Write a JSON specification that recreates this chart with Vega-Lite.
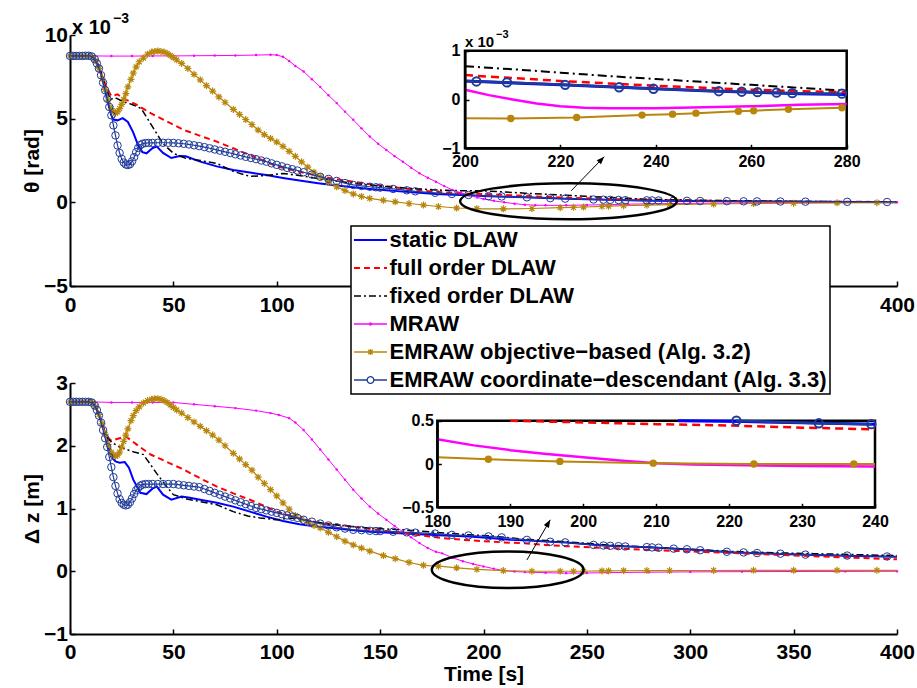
{
"$schema": "https://vega.github.io/schema/vega-lite/v6.json",
"width": 827, "height": 599,
"autosize": {"type": "none"},
"padding": {"left": 70, "top": 35, "right": 20, "bottom": 54},
"background": "white",
"config": {
 "view": {"stroke": null},
 "font": "Liberation Sans",
 "axis": {"domainColor":"black","domainWidth":2,"tickColor":"black","tickWidth":1.5,"tickSize":-5,"labelFont":"Liberation Sans","labelFontSize":21,"labelFontWeight":"bold","labelColor":"black","labelFlush":false,"labelOverlap":false,"labelBound":false,"titleFont":"Liberation Sans","titleFontSize":21,"titleFontWeight":"bold","titleColor":"black","grid":false}
},
"datasets": {
"L": [
{"p":"th","s":"sd","t":0,"v":8.75},{"p":"th","s":"sd","t":10,"v":8.75},{"p":"th","s":"sd","t":12,"v":8.6},{"p":"th","s":"sd","t":14,"v":8.1},{"p":"th","s":"sd","t":16,"v":7.2},{"p":"th","s":"sd","t":18,"v":6.1},{"p":"th","s":"sd","t":20,"v":5.2},{"p":"th","s":"sd","t":21,"v":4.95},{"p":"th","s":"sd","t":23,"v":4.9},{"p":"th","s":"sd","t":25.5,"v":5.03},{"p":"th","s":"sd","t":28,"v":4.8},{"p":"th","s":"sd","t":30.5,"v":4.2},{"p":"th","s":"sd","t":33,"v":3.4},{"p":"th","s":"sd","t":35,"v":3.0},{"p":"th","s":"sd","t":37,"v":2.93},{"p":"th","s":"sd","t":40,"v":3.25},{"p":"th","s":"sd","t":42,"v":3.33},{"p":"th","s":"sd","t":45,"v":2.95},{"p":"th","s":"sd","t":49,"v":2.65},{"p":"th","s":"sd","t":53,"v":2.77},{"p":"th","s":"sd","t":56,"v":2.75},{"p":"th","s":"sd","t":63,"v":2.43},{"p":"th","s":"sd","t":71,"v":2.15},{"p":"th","s":"sd","t":79,"v":1.93},{"p":"th","s":"sd","t":87,"v":1.78},{"p":"th","s":"sd","t":95,"v":1.63},{"p":"th","s":"sd","t":103,"v":1.46},{"p":"th","s":"sd","t":111,"v":1.3},{"p":"th","s":"sd","t":120,"v":1.14},{"p":"th","s":"sd","t":129,"v":1.0},{"p":"th","s":"sd","t":137,"v":0.9},{"p":"th","s":"sd","t":145,"v":0.8},{"p":"th","s":"sd","t":153,"v":0.72},{"p":"th","s":"sd","t":161,"v":0.64},{"p":"th","s":"sd","t":169,"v":0.57},{"p":"th","s":"sd","t":177,"v":0.5},{"p":"th","s":"sd","t":185,"v":0.46},{"p":"th","s":"sd","t":193,"v":0.42},{"p":"th","s":"sd","t":200,"v":0.38},{"p":"th","s":"sd","t":210,"v":0.34},{"p":"th","s":"sd","t":220,"v":0.3},{"p":"th","s":"sd","t":230,"v":0.26},{"p":"th","s":"sd","t":240,"v":0.22},{"p":"th","s":"sd","t":250,"v":0.18},{"p":"th","s":"sd","t":260,"v":0.15},{"p":"th","s":"sd","t":270,"v":0.12},{"p":"th","s":"sd","t":280,"v":0.1},{"p":"th","s":"sd","t":300,"v":0.08},{"p":"th","s":"sd","t":320,"v":0.06},{"p":"th","s":"sd","t":340,"v":0.045},{"p":"th","s":"sd","t":360,"v":0.03},{"p":"th","s":"sd","t":380,"v":0.02},{"p":"th","s":"sd","t":400,"v":0.01},
{"p":"th","s":"fo","t":0,"v":8.75},{"p":"th","s":"fo","t":10,"v":8.75},{"p":"th","s":"fo","t":12,"v":8.6},{"p":"th","s":"fo","t":14,"v":8.1},{"p":"th","s":"fo","t":16,"v":7.4},{"p":"th","s":"fo","t":17.5,"v":6.9},{"p":"th","s":"fo","t":20,"v":6.35},{"p":"th","s":"fo","t":23,"v":6.45},{"p":"th","s":"fo","t":26,"v":6.2},{"p":"th","s":"fo","t":32,"v":5.85},{"p":"th","s":"fo","t":39,"v":5.33},{"p":"th","s":"fo","t":47,"v":4.83},{"p":"th","s":"fo","t":55,"v":4.33},{"p":"th","s":"fo","t":63,"v":3.97},{"p":"th","s":"fo","t":71,"v":3.63},{"p":"th","s":"fo","t":79,"v":3.23},{"p":"th","s":"fo","t":87,"v":2.83},{"p":"th","s":"fo","t":94,"v":2.47},{"p":"th","s":"fo","t":100,"v":2.15},{"p":"th","s":"fo","t":111,"v":1.83},{"p":"th","s":"fo","t":121,"v":1.55},{"p":"th","s":"fo","t":129,"v":1.38},{"p":"th","s":"fo","t":137,"v":1.23},{"p":"th","s":"fo","t":149,"v":1.02},{"p":"th","s":"fo","t":161,"v":0.84},{"p":"th","s":"fo","t":173,"v":0.68},{"p":"th","s":"fo","t":185,"v":0.56},{"p":"th","s":"fo","t":193,"v":0.52},{"p":"th","s":"fo","t":200,"v":0.5},{"p":"th","s":"fo","t":210,"v":0.44},{"p":"th","s":"fo","t":220,"v":0.38},{"p":"th","s":"fo","t":230,"v":0.33},{"p":"th","s":"fo","t":240,"v":0.28},{"p":"th","s":"fo","t":250,"v":0.24},{"p":"th","s":"fo","t":260,"v":0.2},{"p":"th","s":"fo","t":270,"v":0.17},{"p":"th","s":"fo","t":280,"v":0.15},{"p":"th","s":"fo","t":300,"v":0.11},{"p":"th","s":"fo","t":320,"v":0.08},{"p":"th","s":"fo","t":340,"v":0.06},{"p":"th","s":"fo","t":360,"v":0.04},{"p":"th","s":"fo","t":380,"v":0.03},{"p":"th","s":"fo","t":400,"v":0.02},
{"p":"th","s":"fx","t":0,"v":8.75},{"p":"th","s":"fx","t":10,"v":8.75},{"p":"th","s":"fx","t":12,"v":8.6},{"p":"th","s":"fx","t":14,"v":8.1},{"p":"th","s":"fx","t":16,"v":7.4},{"p":"th","s":"fx","t":17.5,"v":6.8},{"p":"th","s":"fx","t":19.5,"v":6.15},{"p":"th","s":"fx","t":22,"v":6.25},{"p":"th","s":"fx","t":26,"v":6.0},{"p":"th","s":"fx","t":30,"v":5.85},{"p":"th","s":"fx","t":34.5,"v":5.6},{"p":"th","s":"fx","t":37,"v":5.1},{"p":"th","s":"fx","t":40,"v":4.5},{"p":"th","s":"fx","t":45,"v":3.5},{"p":"th","s":"fx","t":50,"v":2.93},{"p":"th","s":"fx","t":56,"v":2.63},{"p":"th","s":"fx","t":63,"v":2.5},{"p":"th","s":"fx","t":71,"v":2.33},{"p":"th","s":"fx","t":79,"v":1.85},{"p":"th","s":"fx","t":87,"v":1.55},{"p":"th","s":"fx","t":95,"v":1.6},{"p":"th","s":"fx","t":103,"v":1.73},{"p":"th","s":"fx","t":110,"v":1.62},{"p":"th","s":"fx","t":121,"v":1.4},{"p":"th","s":"fx","t":137,"v":1.14},{"p":"th","s":"fx","t":153,"v":0.94},{"p":"th","s":"fx","t":165,"v":0.83},{"p":"th","s":"fx","t":177,"v":0.74},{"p":"th","s":"fx","t":187,"v":0.7},{"p":"th","s":"fx","t":193,"v":0.69},{"p":"th","s":"fx","t":200,"v":0.68},{"p":"th","s":"fx","t":210,"v":0.62},{"p":"th","s":"fx","t":220,"v":0.55},{"p":"th","s":"fx","t":230,"v":0.48},{"p":"th","s":"fx","t":240,"v":0.42},{"p":"th","s":"fx","t":250,"v":0.36},{"p":"th","s":"fx","t":260,"v":0.3},{"p":"th","s":"fx","t":270,"v":0.24},{"p":"th","s":"fx","t":280,"v":0.18},{"p":"th","s":"fx","t":300,"v":0.13},{"p":"th","s":"fx","t":320,"v":0.1},{"p":"th","s":"fx","t":340,"v":0.07},{"p":"th","s":"fx","t":360,"v":0.05},{"p":"th","s":"fx","t":380,"v":0.03},{"p":"th","s":"fx","t":400,"v":0.02},
{"p":"th","s":"mr","t":0,"v":8.75},{"p":"th","s":"mr","t":10,"v":8.75},{"p":"th","s":"mr","t":20,"v":8.74},{"p":"th","s":"mr","t":30,"v":8.74},{"p":"th","s":"mr","t":40,"v":8.75},{"p":"th","s":"mr","t":50,"v":8.75},{"p":"th","s":"mr","t":60,"v":8.76},{"p":"th","s":"mr","t":70,"v":8.77},{"p":"th","s":"mr","t":80,"v":8.78},{"p":"th","s":"mr","t":90,"v":8.8},{"p":"th","s":"mr","t":97,"v":8.82},{"p":"th","s":"mr","t":100,"v":8.8},{"p":"th","s":"mr","t":103,"v":8.7},{"p":"th","s":"mr","t":106,"v":8.45},{"p":"th","s":"mr","t":109,"v":8.15},{"p":"th","s":"mr","t":113,"v":7.82},{"p":"th","s":"mr","t":117,"v":7.35},{"p":"th","s":"mr","t":121,"v":6.9},{"p":"th","s":"mr","t":125,"v":6.4},{"p":"th","s":"mr","t":129,"v":5.93},{"p":"th","s":"mr","t":133,"v":5.42},{"p":"th","s":"mr","t":137,"v":4.93},{"p":"th","s":"mr","t":141,"v":4.42},{"p":"th","s":"mr","t":145,"v":3.93},{"p":"th","s":"mr","t":149,"v":3.5},{"p":"th","s":"mr","t":153,"v":3.13},{"p":"th","s":"mr","t":157,"v":2.76},{"p":"th","s":"mr","t":161,"v":2.43},{"p":"th","s":"mr","t":165,"v":2.07},{"p":"th","s":"mr","t":169,"v":1.74},{"p":"th","s":"mr","t":173,"v":1.47},{"p":"th","s":"mr","t":177,"v":1.23},{"p":"th","s":"mr","t":181,"v":0.97},{"p":"th","s":"mr","t":185,"v":0.74},{"p":"th","s":"mr","t":189,"v":0.57},{"p":"th","s":"mr","t":193,"v":0.42},{"p":"th","s":"mr","t":197,"v":0.29},{"p":"th","s":"mr","t":200,"v":0.2},{"p":"th","s":"mr","t":205,"v":0.09},{"p":"th","s":"mr","t":210,"v":0.0},{"p":"th","s":"mr","t":215,"v":-0.08},{"p":"th","s":"mr","t":220,"v":-0.14},{"p":"th","s":"mr","t":225,"v":-0.17},{"p":"th","s":"mr","t":230,"v":-0.18},{"p":"th","s":"mr","t":240,"v":-0.18},{"p":"th","s":"mr","t":250,"v":-0.16},{"p":"th","s":"mr","t":260,"v":-0.14},{"p":"th","s":"mr","t":270,"v":-0.11},{"p":"th","s":"mr","t":280,"v":-0.09},{"p":"th","s":"mr","t":300,"v":-0.06},{"p":"th","s":"mr","t":325,"v":-0.04},{"p":"th","s":"mr","t":350,"v":-0.02},{"p":"th","s":"mr","t":375,"v":-0.01},{"p":"th","s":"mr","t":400,"v":0},
{"p":"th","s":"eo","t":0,"v":8.75},{"p":"th","s":"eo","t":3,"v":8.75},{"p":"th","s":"eo","t":6,"v":8.75},{"p":"th","s":"eo","t":9,"v":8.75},{"p":"th","s":"eo","t":11,"v":8.7},{"p":"th","s":"eo","t":12.5,"v":8.45},{"p":"th","s":"eo","t":14,"v":8.0},{"p":"th","s":"eo","t":15.5,"v":7.4},{"p":"th","s":"eo","t":17,"v":6.75},{"p":"th","s":"eo","t":18.5,"v":6.1},{"p":"th","s":"eo","t":20,"v":5.6},{"p":"th","s":"eo","t":21,"v":5.42},{"p":"th","s":"eo","t":22,"v":5.33},{"p":"th","s":"eo","t":23,"v":5.4},{"p":"th","s":"eo","t":24,"v":5.6},{"p":"th","s":"eo","t":25,"v":5.85},{"p":"th","s":"eo","t":26,"v":6.15},{"p":"th","s":"eo","t":27,"v":6.5},{"p":"th","s":"eo","t":28,"v":6.9},{"p":"th","s":"eo","t":29.5,"v":7.35},{"p":"th","s":"eo","t":30.6,"v":7.72},{"p":"th","s":"eo","t":32,"v":8.1},{"p":"th","s":"eo","t":33.5,"v":8.4},{"p":"th","s":"eo","t":35.5,"v":8.62},{"p":"th","s":"eo","t":37.5,"v":8.85},{"p":"th","s":"eo","t":39.5,"v":8.98},{"p":"th","s":"eo","t":41,"v":9.02},{"p":"th","s":"eo","t":42.5,"v":9.05},{"p":"th","s":"eo","t":44,"v":9.02},{"p":"th","s":"eo","t":45.5,"v":8.98},{"p":"th","s":"eo","t":47,"v":8.9},{"p":"th","s":"eo","t":48.5,"v":8.78},{"p":"th","s":"eo","t":50,"v":8.65},{"p":"th","s":"eo","t":51.6,"v":8.52},{"p":"th","s":"eo","t":54,"v":8.3},{"p":"th","s":"eo","t":57,"v":8.0},{"p":"th","s":"eo","t":60,"v":7.65},{"p":"th","s":"eo","t":63,"v":7.32},{"p":"th","s":"eo","t":66,"v":6.98},{"p":"th","s":"eo","t":69,"v":6.65},{"p":"th","s":"eo","t":72,"v":6.3},{"p":"th","s":"eo","t":75,"v":5.98},{"p":"th","s":"eo","t":79,"v":5.55},{"p":"th","s":"eo","t":82,"v":5.25},{"p":"th","s":"eo","t":85,"v":4.95},{"p":"th","s":"eo","t":88,"v":4.65},{"p":"th","s":"eo","t":91,"v":4.32},{"p":"th","s":"eo","t":94,"v":4.05},{"p":"th","s":"eo","t":97,"v":3.82},{"p":"th","s":"eo","t":100,"v":3.6},{"p":"th","s":"eo","t":103,"v":3.35},{"p":"th","s":"eo","t":106,"v":3.05},{"p":"th","s":"eo","t":109,"v":2.75},{"p":"th","s":"eo","t":112,"v":2.42},{"p":"th","s":"eo","t":115,"v":2.1},{"p":"th","s":"eo","t":118,"v":1.8},{"p":"th","s":"eo","t":121,"v":1.53},{"p":"th","s":"eo","t":125,"v":1.2},{"p":"th","s":"eo","t":129,"v":0.93},{"p":"th","s":"eo","t":133,"v":0.7},{"p":"th","s":"eo","t":137,"v":0.5},{"p":"th","s":"eo","t":141,"v":0.35},{"p":"th","s":"eo","t":145,"v":0.24},{"p":"th","s":"eo","t":151.6,"v":0.12},{"p":"th","s":"eo","t":157.3,"v":0.03},{"p":"th","s":"eo","t":164,"v":-0.07},{"p":"th","s":"eo","t":171,"v":-0.16},{"p":"th","s":"eo","t":178.2,"v":-0.25},{"p":"th","s":"eo","t":187,"v":-0.34},{"p":"th","s":"eo","t":196.8,"v":-0.38},{"p":"th","s":"eo","t":200,"v":-0.385,"mk":0},{"p":"th","s":"eo","t":209.6,"v":-0.39},{"p":"th","s":"eo","t":223.4,"v":-0.37},{"p":"th","s":"eo","t":237.1,"v":-0.32},{"p":"th","s":"eo","t":243.5,"v":-0.3},{"p":"th","s":"eo","t":248.4,"v":-0.28},{"p":"th","s":"eo","t":257.3,"v":-0.24},{"p":"th","s":"eo","t":260.5,"v":-0.23},{"p":"th","s":"eo","t":267.8,"v":-0.2},{"p":"th","s":"eo","t":279,"v":-0.17},{"p":"th","s":"eo","t":290,"v":-0.14},{"p":"th","s":"eo","t":311.3,"v":-0.1},{"p":"th","s":"eo","t":330.6,"v":-0.07},{"p":"th","s":"eo","t":350,"v":-0.05},{"p":"th","s":"eo","t":371,"v":-0.03},{"p":"th","s":"eo","t":390.3,"v":-0.02},{"p":"th","s":"eo","t":400,"v":-0.02,"mk":0},
{"p":"th","s":"ec","t":0,"v":8.75},{"p":"th","s":"ec","t":1.5,"v":8.75},{"p":"th","s":"ec","t":3,"v":8.75},{"p":"th","s":"ec","t":4.5,"v":8.75},{"p":"th","s":"ec","t":6,"v":8.75},{"p":"th","s":"ec","t":7.5,"v":8.76},{"p":"th","s":"ec","t":9,"v":8.76},{"p":"th","s":"ec","t":10.5,"v":8.72},{"p":"th","s":"ec","t":12,"v":8.55},{"p":"th","s":"ec","t":13,"v":8.3},{"p":"th","s":"ec","t":14,"v":8.0},{"p":"th","s":"ec","t":15,"v":7.6},{"p":"th","s":"ec","t":16,"v":7.15},{"p":"th","s":"ec","t":17,"v":6.7},{"p":"th","s":"ec","t":18,"v":6.2},{"p":"th","s":"ec","t":19,"v":5.7},{"p":"th","s":"ec","t":20,"v":5.2},{"p":"th","s":"ec","t":21,"v":4.6},{"p":"th","s":"ec","t":22,"v":4.0},{"p":"th","s":"ec","t":23,"v":3.4},{"p":"th","s":"ec","t":24,"v":2.95},{"p":"th","s":"ec","t":25,"v":2.6},{"p":"th","s":"ec","t":26,"v":2.38},{"p":"th","s":"ec","t":27,"v":2.26},{"p":"th","s":"ec","t":28,"v":2.23},{"p":"th","s":"ec","t":29,"v":2.28},{"p":"th","s":"ec","t":30,"v":2.45},{"p":"th","s":"ec","t":31,"v":2.7},{"p":"th","s":"ec","t":32,"v":3.0},{"p":"th","s":"ec","t":33,"v":3.25},{"p":"th","s":"ec","t":34,"v":3.42},{"p":"th","s":"ec","t":35,"v":3.5},{"p":"th","s":"ec","t":36.5,"v":3.54},{"p":"th","s":"ec","t":38,"v":3.55},{"p":"th","s":"ec","t":40,"v":3.55},{"p":"th","s":"ec","t":42.5,"v":3.56},{"p":"th","s":"ec","t":45,"v":3.56},{"p":"th","s":"ec","t":47.5,"v":3.56},{"p":"th","s":"ec","t":50,"v":3.55},{"p":"th","s":"ec","t":52.5,"v":3.53},{"p":"th","s":"ec","t":55,"v":3.5},{"p":"th","s":"ec","t":57.5,"v":3.46},{"p":"th","s":"ec","t":60,"v":3.41},{"p":"th","s":"ec","t":62.5,"v":3.36},{"p":"th","s":"ec","t":65,"v":3.3},{"p":"th","s":"ec","t":67.5,"v":3.23},{"p":"th","s":"ec","t":70,"v":3.16},{"p":"th","s":"ec","t":72.5,"v":3.09},{"p":"th","s":"ec","t":75,"v":3.02},{"p":"th","s":"ec","t":77.5,"v":2.95},{"p":"th","s":"ec","t":80,"v":2.87},{"p":"th","s":"ec","t":82.5,"v":2.8},{"p":"th","s":"ec","t":85,"v":2.72},{"p":"th","s":"ec","t":87.5,"v":2.65},{"p":"th","s":"ec","t":90,"v":2.58},{"p":"th","s":"ec","t":92.5,"v":2.5},{"p":"th","s":"ec","t":95,"v":2.43},{"p":"th","s":"ec","t":97.5,"v":2.33},{"p":"th","s":"ec","t":100,"v":2.24},{"p":"th","s":"ec","t":102.5,"v":2.15},{"p":"th","s":"ec","t":105,"v":2.06},{"p":"th","s":"ec","t":107.5,"v":1.98},{"p":"th","s":"ec","t":110,"v":1.9},{"p":"th","s":"ec","t":113,"v":1.8},{"p":"th","s":"ec","t":117,"v":1.66},{"p":"th","s":"ec","t":121,"v":1.53},{"p":"th","s":"ec","t":125,"v":1.4},{"p":"th","s":"ec","t":129,"v":1.28},{"p":"th","s":"ec","t":133,"v":1.15},{"p":"th","s":"ec","t":137,"v":1.04},{"p":"th","s":"ec","t":141,"v":0.98},{"p":"th","s":"ec","t":145,"v":0.93},{"p":"th","s":"ec","t":148,"v":0.9},{"p":"th","s":"ec","t":150,"v":0.88},{"p":"th","s":"ec","t":156.3,"v":0.8},{"p":"th","s":"ec","t":162.9,"v":0.72},{"p":"th","s":"ec","t":167,"v":0.66},{"p":"th","s":"ec","t":176.6,"v":0.57},{"p":"th","s":"ec","t":184.7,"v":0.5},{"p":"th","s":"ec","t":192.7,"v":0.44},{"p":"th","s":"ec","t":200,"v":0.38,"mk":0},{"p":"th","s":"ec","t":202.4,"v":0.37},{"p":"th","s":"ec","t":208.8,"v":0.35},{"p":"th","s":"ec","t":221,"v":0.3},{"p":"th","s":"ec","t":232.3,"v":0.25},{"p":"th","s":"ec","t":239.5,"v":0.22},{"p":"th","s":"ec","t":253.2,"v":0.17},{"p":"th","s":"ec","t":258,"v":0.16},{"p":"th","s":"ec","t":261.3,"v":0.15},{"p":"th","s":"ec","t":265.3,"v":0.14},{"p":"th","s":"ec","t":268.6,"v":0.13},{"p":"th","s":"ec","t":279,"v":0.12},{"p":"th","s":"ec","t":281.5,"v":0.11},{"p":"th","s":"ec","t":284.7,"v":0.11},{"p":"th","s":"ec","t":292,"v":0.1},{"p":"th","s":"ec","t":298.4,"v":0.09},{"p":"th","s":"ec","t":304.8,"v":0.08},{"p":"th","s":"ec","t":317.7,"v":0.07},{"p":"th","s":"ec","t":325.8,"v":0.06},{"p":"th","s":"ec","t":332.3,"v":0.055},{"p":"th","s":"ec","t":343.6,"v":0.05},{"p":"th","s":"ec","t":355.7,"v":0.04},{"p":"th","s":"ec","t":375.9,"v":0.03},{"p":"th","s":"ec","t":395.2,"v":0.02},{"p":"th","s":"ec","t":400,"v":0.02,"mk":0},
{"p":"dz","s":"sd","t":0,"v":2.7},{"p":"dz","s":"sd","t":10,"v":2.7},{"p":"dz","s":"sd","t":12,"v":2.65},{"p":"dz","s":"sd","t":14,"v":2.5},{"p":"dz","s":"sd","t":16,"v":2.3},{"p":"dz","s":"sd","t":18,"v":2.05},{"p":"dz","s":"sd","t":20,"v":1.82},{"p":"dz","s":"sd","t":22,"v":1.75},{"p":"dz","s":"sd","t":24,"v":1.73},{"p":"dz","s":"sd","t":26.5,"v":1.74},{"p":"dz","s":"sd","t":28.5,"v":1.65},{"p":"dz","s":"sd","t":30.6,"v":1.46},{"p":"dz","s":"sd","t":34,"v":1.25},{"p":"dz","s":"sd","t":37,"v":1.23},{"p":"dz","s":"sd","t":40,"v":1.32},{"p":"dz","s":"sd","t":42,"v":1.35},{"p":"dz","s":"sd","t":45,"v":1.22},{"p":"dz","s":"sd","t":49,"v":1.14},{"p":"dz","s":"sd","t":54,"v":1.19},{"p":"dz","s":"sd","t":58,"v":1.17},{"p":"dz","s":"sd","t":63,"v":1.14},{"p":"dz","s":"sd","t":71,"v":1.09},{"p":"dz","s":"sd","t":79,"v":1.03},{"p":"dz","s":"sd","t":87,"v":0.95},{"p":"dz","s":"sd","t":95,"v":0.87},{"p":"dz","s":"sd","t":103,"v":0.8},{"p":"dz","s":"sd","t":111,"v":0.75},{"p":"dz","s":"sd","t":120,"v":0.71},{"p":"dz","s":"sd","t":129,"v":0.68},{"p":"dz","s":"sd","t":137,"v":0.655},{"p":"dz","s":"sd","t":145,"v":0.63},{"p":"dz","s":"sd","t":157,"v":0.61},{"p":"dz","s":"sd","t":169,"v":0.59},{"p":"dz","s":"sd","t":181,"v":0.57},{"p":"dz","s":"sd","t":193,"v":0.555},{"p":"dz","s":"sd","t":203,"v":0.53},{"p":"dz","s":"sd","t":213,"v":0.5},{"p":"dz","s":"sd","t":222,"v":0.49},{"p":"dz","s":"sd","t":230,"v":0.475},{"p":"dz","s":"sd","t":240,"v":0.46},{"p":"dz","s":"sd","t":258,"v":0.41},{"p":"dz","s":"sd","t":270,"v":0.395},{"p":"dz","s":"sd","t":282,"v":0.38},{"p":"dz","s":"sd","t":300,"v":0.345},{"p":"dz","s":"sd","t":321,"v":0.3},{"p":"dz","s":"sd","t":340,"v":0.28},{"p":"dz","s":"sd","t":360,"v":0.26},{"p":"dz","s":"sd","t":380,"v":0.245},{"p":"dz","s":"sd","t":400,"v":0.23},
{"p":"dz","s":"fo","t":0,"v":2.7},{"p":"dz","s":"fo","t":10,"v":2.7},{"p":"dz","s":"fo","t":12,"v":2.65},{"p":"dz","s":"fo","t":14,"v":2.5},{"p":"dz","s":"fo","t":16,"v":2.3},{"p":"dz","s":"fo","t":17.7,"v":2.15},{"p":"dz","s":"fo","t":20,"v":2.08},{"p":"dz","s":"fo","t":24,"v":2.12},{"p":"dz","s":"fo","t":27,"v":2.15},{"p":"dz","s":"fo","t":33,"v":2.0},{"p":"dz","s":"fo","t":39,"v":1.86},{"p":"dz","s":"fo","t":47,"v":1.74},{"p":"dz","s":"fo","t":55,"v":1.62},{"p":"dz","s":"fo","t":63,"v":1.48},{"p":"dz","s":"fo","t":71,"v":1.35},{"p":"dz","s":"fo","t":79,"v":1.24},{"p":"dz","s":"fo","t":87,"v":1.14},{"p":"dz","s":"fo","t":94,"v":1.04},{"p":"dz","s":"fo","t":100,"v":0.95},{"p":"dz","s":"fo","t":110,"v":0.85},{"p":"dz","s":"fo","t":121,"v":0.77},{"p":"dz","s":"fo","t":137,"v":0.71},{"p":"dz","s":"fo","t":149,"v":0.66},{"p":"dz","s":"fo","t":161,"v":0.61},{"p":"dz","s":"fo","t":170,"v":0.57},{"p":"dz","s":"fo","t":180,"v":0.53},{"p":"dz","s":"fo","t":190,"v":0.5},{"p":"dz","s":"fo","t":200,"v":0.48},{"p":"dz","s":"fo","t":210,"v":0.46},{"p":"dz","s":"fo","t":220,"v":0.445},{"p":"dz","s":"fo","t":230,"v":0.42},{"p":"dz","s":"fo","t":240,"v":0.4},{"p":"dz","s":"fo","t":260,"v":0.37},{"p":"dz","s":"fo","t":280,"v":0.34},{"p":"dz","s":"fo","t":300,"v":0.315},{"p":"dz","s":"fo","t":321,"v":0.29},{"p":"dz","s":"fo","t":340,"v":0.265},{"p":"dz","s":"fo","t":360,"v":0.24},{"p":"dz","s":"fo","t":380,"v":0.215},{"p":"dz","s":"fo","t":400,"v":0.19},
{"p":"dz","s":"fx","t":0,"v":2.7},{"p":"dz","s":"fx","t":10,"v":2.7},{"p":"dz","s":"fx","t":12,"v":2.65},{"p":"dz","s":"fx","t":14,"v":2.5},{"p":"dz","s":"fx","t":16,"v":2.3},{"p":"dz","s":"fx","t":18,"v":2.12},{"p":"dz","s":"fx","t":20.9,"v":2.04},{"p":"dz","s":"fx","t":24,"v":1.98},{"p":"dz","s":"fx","t":27.4,"v":1.94},{"p":"dz","s":"fx","t":31,"v":1.9},{"p":"dz","s":"fx","t":35.5,"v":1.86},{"p":"dz","s":"fx","t":38.5,"v":1.72},{"p":"dz","s":"fx","t":41.9,"v":1.56},{"p":"dz","s":"fx","t":46,"v":1.38},{"p":"dz","s":"fx","t":50,"v":1.22},{"p":"dz","s":"fx","t":56.5,"v":1.15},{"p":"dz","s":"fx","t":63,"v":1.11},{"p":"dz","s":"fx","t":71,"v":1.06},{"p":"dz","s":"fx","t":79,"v":0.95},{"p":"dz","s":"fx","t":86,"v":0.88},{"p":"dz","s":"fx","t":92,"v":0.85},{"p":"dz","s":"fx","t":100,"v":0.82},{"p":"dz","s":"fx","t":108,"v":0.85},{"p":"dz","s":"fx","t":116,"v":0.8},{"p":"dz","s":"fx","t":125,"v":0.75},{"p":"dz","s":"fx","t":137,"v":0.71},{"p":"dz","s":"fx","t":149,"v":0.68},{"p":"dz","s":"fx","t":161,"v":0.66},{"p":"dz","s":"fx","t":177,"v":0.62},{"p":"dz","s":"fx","t":193.5,"v":0.58},{"p":"dz","s":"fx","t":204.8,"v":0.56},{"p":"dz","s":"fx","t":220,"v":0.51},{"p":"dz","s":"fx","t":240,"v":0.47},{"p":"dz","s":"fx","t":260,"v":0.42},{"p":"dz","s":"fx","t":282,"v":0.38},{"p":"dz","s":"fx","t":300,"v":0.35},{"p":"dz","s":"fx","t":321,"v":0.315},{"p":"dz","s":"fx","t":340,"v":0.295},{"p":"dz","s":"fx","t":360,"v":0.28},{"p":"dz","s":"fx","t":380,"v":0.265},{"p":"dz","s":"fx","t":400,"v":0.25},
{"p":"dz","s":"mr","t":0,"v":2.7},{"p":"dz","s":"mr","t":10,"v":2.7},{"p":"dz","s":"mr","t":20,"v":2.69},{"p":"dz","s":"mr","t":30,"v":2.69},{"p":"dz","s":"mr","t":40,"v":2.69},{"p":"dz","s":"mr","t":50,"v":2.69},{"p":"dz","s":"mr","t":60,"v":2.66},{"p":"dz","s":"mr","t":70,"v":2.63},{"p":"dz","s":"mr","t":80,"v":2.6},{"p":"dz","s":"mr","t":90,"v":2.56},{"p":"dz","s":"mr","t":97,"v":2.52},{"p":"dz","s":"mr","t":101,"v":2.49},{"p":"dz","s":"mr","t":106,"v":2.44},{"p":"dz","s":"mr","t":109,"v":2.37},{"p":"dz","s":"mr","t":113,"v":2.25},{"p":"dz","s":"mr","t":117,"v":2.1},{"p":"dz","s":"mr","t":121,"v":1.94},{"p":"dz","s":"mr","t":125,"v":1.78},{"p":"dz","s":"mr","t":129,"v":1.62},{"p":"dz","s":"mr","t":133,"v":1.46},{"p":"dz","s":"mr","t":137,"v":1.3},{"p":"dz","s":"mr","t":141,"v":1.16},{"p":"dz","s":"mr","t":145,"v":1.03},{"p":"dz","s":"mr","t":149,"v":0.92},{"p":"dz","s":"mr","t":153,"v":0.82},{"p":"dz","s":"mr","t":157,"v":0.72},{"p":"dz","s":"mr","t":161,"v":0.63},{"p":"dz","s":"mr","t":165,"v":0.54},{"p":"dz","s":"mr","t":169,"v":0.45},{"p":"dz","s":"mr","t":173,"v":0.37},{"p":"dz","s":"mr","t":177,"v":0.31},{"p":"dz","s":"mr","t":180,"v":0.285},{"p":"dz","s":"mr","t":185,"v":0.215},{"p":"dz","s":"mr","t":190,"v":0.16},{"p":"dz","s":"mr","t":195,"v":0.115},{"p":"dz","s":"mr","t":200,"v":0.077},{"p":"dz","s":"mr","t":205,"v":0.04},{"p":"dz","s":"mr","t":210,"v":0.008},{"p":"dz","s":"mr","t":215,"v":-0.005},{"p":"dz","s":"mr","t":220,"v":-0.012},{"p":"dz","s":"mr","t":230,"v":-0.023},{"p":"dz","s":"mr","t":240,"v":-0.03},{"p":"dz","s":"mr","t":250,"v":-0.028},{"p":"dz","s":"mr","t":260,"v":-0.022},{"p":"dz","s":"mr","t":280,"v":-0.015},{"p":"dz","s":"mr","t":300,"v":-0.01},{"p":"dz","s":"mr","t":325,"v":-0.006},{"p":"dz","s":"mr","t":350,"v":-0.004},{"p":"dz","s":"mr","t":375,"v":-0.002},{"p":"dz","s":"mr","t":400,"v":0},
{"p":"dz","s":"eo","t":0,"v":2.7},{"p":"dz","s":"eo","t":3,"v":2.7},{"p":"dz","s":"eo","t":6,"v":2.7},{"p":"dz","s":"eo","t":9,"v":2.7},{"p":"dz","s":"eo","t":11,"v":2.69},{"p":"dz","s":"eo","t":12.5,"v":2.62},{"p":"dz","s":"eo","t":14,"v":2.5},{"p":"dz","s":"eo","t":15.5,"v":2.35},{"p":"dz","s":"eo","t":17,"v":2.18},{"p":"dz","s":"eo","t":18.5,"v":2.02},{"p":"dz","s":"eo","t":20,"v":1.9},{"p":"dz","s":"eo","t":21,"v":1.85},{"p":"dz","s":"eo","t":22,"v":1.83},{"p":"dz","s":"eo","t":23,"v":1.85},{"p":"dz","s":"eo","t":24,"v":1.9},{"p":"dz","s":"eo","t":25,"v":1.98},{"p":"dz","s":"eo","t":26,"v":2.07},{"p":"dz","s":"eo","t":27,"v":2.17},{"p":"dz","s":"eo","t":28,"v":2.27},{"p":"dz","s":"eo","t":29.5,"v":2.4},{"p":"dz","s":"eo","t":30.6,"v":2.48},{"p":"dz","s":"eo","t":32,"v":2.56},{"p":"dz","s":"eo","t":33.5,"v":2.62},{"p":"dz","s":"eo","t":35.5,"v":2.68},{"p":"dz","s":"eo","t":37.5,"v":2.72},{"p":"dz","s":"eo","t":39.5,"v":2.74},{"p":"dz","s":"eo","t":41,"v":2.75},{"p":"dz","s":"eo","t":42.5,"v":2.75},{"p":"dz","s":"eo","t":44,"v":2.74},{"p":"dz","s":"eo","t":45.5,"v":2.72},{"p":"dz","s":"eo","t":47,"v":2.69},{"p":"dz","s":"eo","t":48.5,"v":2.65},{"p":"dz","s":"eo","t":50,"v":2.61},{"p":"dz","s":"eo","t":51.6,"v":2.57},{"p":"dz","s":"eo","t":54,"v":2.52},{"p":"dz","s":"eo","t":57,"v":2.45},{"p":"dz","s":"eo","t":60,"v":2.38},{"p":"dz","s":"eo","t":63,"v":2.31},{"p":"dz","s":"eo","t":66,"v":2.24},{"p":"dz","s":"eo","t":69,"v":2.17},{"p":"dz","s":"eo","t":72,"v":2.09},{"p":"dz","s":"eo","t":75,"v":2.0},{"p":"dz","s":"eo","t":79,"v":1.88},{"p":"dz","s":"eo","t":82,"v":1.79},{"p":"dz","s":"eo","t":85,"v":1.7},{"p":"dz","s":"eo","t":88,"v":1.61},{"p":"dz","s":"eo","t":91,"v":1.5},{"p":"dz","s":"eo","t":94,"v":1.4},{"p":"dz","s":"eo","t":97,"v":1.3},{"p":"dz","s":"eo","t":100,"v":1.2},{"p":"dz","s":"eo","t":103,"v":1.09},{"p":"dz","s":"eo","t":106,"v":0.99},{"p":"dz","s":"eo","t":109,"v":0.89},{"p":"dz","s":"eo","t":112,"v":0.83},{"p":"dz","s":"eo","t":115,"v":0.78},{"p":"dz","s":"eo","t":118,"v":0.73},{"p":"dz","s":"eo","t":121,"v":0.69},{"p":"dz","s":"eo","t":125,"v":0.62},{"p":"dz","s":"eo","t":129,"v":0.55},{"p":"dz","s":"eo","t":133,"v":0.48},{"p":"dz","s":"eo","t":137,"v":0.42},{"p":"dz","s":"eo","t":141,"v":0.37},{"p":"dz","s":"eo","t":145,"v":0.32},{"p":"dz","s":"eo","t":151.6,"v":0.25},{"p":"dz","s":"eo","t":157.3,"v":0.2},{"p":"dz","s":"eo","t":164,"v":0.14},{"p":"dz","s":"eo","t":171,"v":0.095},{"p":"dz","s":"eo","t":178.2,"v":0.08},{"p":"dz","s":"eo","t":180,"v":0.077,"mk":0},{"p":"dz","s":"eo","t":187,"v":0.054},{"p":"dz","s":"eo","t":196.8,"v":0.03},{"p":"dz","s":"eo","t":209.6,"v":0.01},{"p":"dz","s":"eo","t":223.4,"v":0.0},{"p":"dz","s":"eo","t":237.1,"v":0.0},{"p":"dz","s":"eo","t":240,"v":0.0,"mk":0},{"p":"dz","s":"eo","t":243.5,"v":0.0},{"p":"dz","s":"eo","t":248.4,"v":0.0},{"p":"dz","s":"eo","t":257.3,"v":0.005},{"p":"dz","s":"eo","t":260.5,"v":0.005},{"p":"dz","s":"eo","t":267.8,"v":0.008},{"p":"dz","s":"eo","t":279,"v":0.01},{"p":"dz","s":"eo","t":290,"v":0.01},{"p":"dz","s":"eo","t":311.3,"v":0.012},{"p":"dz","s":"eo","t":330.6,"v":0.015},{"p":"dz","s":"eo","t":350,"v":0.015},{"p":"dz","s":"eo","t":371,"v":0.015},{"p":"dz","s":"eo","t":390.3,"v":0.015},{"p":"dz","s":"eo","t":400,"v":0.015,"mk":0},
{"p":"dz","s":"ec","t":0,"v":2.7},{"p":"dz","s":"ec","t":1.5,"v":2.7},{"p":"dz","s":"ec","t":3,"v":2.7},{"p":"dz","s":"ec","t":4.5,"v":2.7},{"p":"dz","s":"ec","t":6,"v":2.7},{"p":"dz","s":"ec","t":7.5,"v":2.7},{"p":"dz","s":"ec","t":9,"v":2.7},{"p":"dz","s":"ec","t":10.5,"v":2.69},{"p":"dz","s":"ec","t":12,"v":2.64},{"p":"dz","s":"ec","t":13,"v":2.57},{"p":"dz","s":"ec","t":14,"v":2.48},{"p":"dz","s":"ec","t":15,"v":2.37},{"p":"dz","s":"ec","t":16,"v":2.25},{"p":"dz","s":"ec","t":17,"v":2.12},{"p":"dz","s":"ec","t":18,"v":1.98},{"p":"dz","s":"ec","t":19,"v":1.82},{"p":"dz","s":"ec","t":20,"v":1.66},{"p":"dz","s":"ec","t":21,"v":1.5},{"p":"dz","s":"ec","t":22,"v":1.36},{"p":"dz","s":"ec","t":23,"v":1.24},{"p":"dz","s":"ec","t":24,"v":1.15},{"p":"dz","s":"ec","t":25,"v":1.09},{"p":"dz","s":"ec","t":26,"v":1.06},{"p":"dz","s":"ec","t":27,"v":1.05},{"p":"dz","s":"ec","t":28,"v":1.06},{"p":"dz","s":"ec","t":29,"v":1.1},{"p":"dz","s":"ec","t":30,"v":1.16},{"p":"dz","s":"ec","t":31,"v":1.23},{"p":"dz","s":"ec","t":32,"v":1.29},{"p":"dz","s":"ec","t":33,"v":1.33},{"p":"dz","s":"ec","t":34,"v":1.36},{"p":"dz","s":"ec","t":35,"v":1.38},{"p":"dz","s":"ec","t":36.5,"v":1.39},{"p":"dz","s":"ec","t":38,"v":1.39},{"p":"dz","s":"ec","t":40,"v":1.39},{"p":"dz","s":"ec","t":42.5,"v":1.39},{"p":"dz","s":"ec","t":45,"v":1.39},{"p":"dz","s":"ec","t":47.5,"v":1.39},{"p":"dz","s":"ec","t":50,"v":1.39},{"p":"dz","s":"ec","t":52.5,"v":1.38},{"p":"dz","s":"ec","t":55,"v":1.37},{"p":"dz","s":"ec","t":57.5,"v":1.36},{"p":"dz","s":"ec","t":60,"v":1.35},{"p":"dz","s":"ec","t":62.5,"v":1.34},{"p":"dz","s":"ec","t":65,"v":1.31},{"p":"dz","s":"ec","t":67.5,"v":1.28},{"p":"dz","s":"ec","t":70,"v":1.25},{"p":"dz","s":"ec","t":72.5,"v":1.22},{"p":"dz","s":"ec","t":75,"v":1.19},{"p":"dz","s":"ec","t":77.5,"v":1.16},{"p":"dz","s":"ec","t":80,"v":1.13},{"p":"dz","s":"ec","t":82.5,"v":1.1},{"p":"dz","s":"ec","t":85,"v":1.07},{"p":"dz","s":"ec","t":87.5,"v":1.04},{"p":"dz","s":"ec","t":90,"v":1.01},{"p":"dz","s":"ec","t":92.5,"v":0.99},{"p":"dz","s":"ec","t":95,"v":0.97},{"p":"dz","s":"ec","t":97.5,"v":0.95},{"p":"dz","s":"ec","t":100,"v":0.93},{"p":"dz","s":"ec","t":102.5,"v":0.91},{"p":"dz","s":"ec","t":105,"v":0.89},{"p":"dz","s":"ec","t":107.5,"v":0.87},{"p":"dz","s":"ec","t":110,"v":0.85},{"p":"dz","s":"ec","t":113,"v":0.82},{"p":"dz","s":"ec","t":117,"v":0.79},{"p":"dz","s":"ec","t":121,"v":0.76},{"p":"dz","s":"ec","t":125,"v":0.73},{"p":"dz","s":"ec","t":129,"v":0.7},{"p":"dz","s":"ec","t":133,"v":0.68},{"p":"dz","s":"ec","t":137,"v":0.66},{"p":"dz","s":"ec","t":141,"v":0.655},{"p":"dz","s":"ec","t":145,"v":0.645},{"p":"dz","s":"ec","t":148,"v":0.64},{"p":"dz","s":"ec","t":150,"v":0.64},{"p":"dz","s":"ec","t":156.3,"v":0.63},{"p":"dz","s":"ec","t":162.9,"v":0.62},{"p":"dz","s":"ec","t":167,"v":0.615},{"p":"dz","s":"ec","t":176.6,"v":0.6},{"p":"dz","s":"ec","t":184.7,"v":0.58},{"p":"dz","s":"ec","t":192.7,"v":0.57},{"p":"dz","s":"ec","t":202.4,"v":0.555},{"p":"dz","s":"ec","t":208.8,"v":0.54},{"p":"dz","s":"ec","t":221,"v":0.5},{"p":"dz","s":"ec","t":232.3,"v":0.47},{"p":"dz","s":"ec","t":239.5,"v":0.46},{"p":"dz","s":"ec","t":253.2,"v":0.42},{"p":"dz","s":"ec","t":258,"v":0.41},{"p":"dz","s":"ec","t":261.3,"v":0.405},{"p":"dz","s":"ec","t":265.3,"v":0.4},{"p":"dz","s":"ec","t":268.6,"v":0.395},{"p":"dz","s":"ec","t":279,"v":0.385},{"p":"dz","s":"ec","t":281.5,"v":0.38},{"p":"dz","s":"ec","t":284.7,"v":0.375},{"p":"dz","s":"ec","t":292,"v":0.36},{"p":"dz","s":"ec","t":298.4,"v":0.35},{"p":"dz","s":"ec","t":304.8,"v":0.335},{"p":"dz","s":"ec","t":317.7,"v":0.31},{"p":"dz","s":"ec","t":325.8,"v":0.3},{"p":"dz","s":"ec","t":332.3,"v":0.29},{"p":"dz","s":"ec","t":343.6,"v":0.28},{"p":"dz","s":"ec","t":355.7,"v":0.265},{"p":"dz","s":"ec","t":375.9,"v":0.25},{"p":"dz","s":"ec","t":395.2,"v":0.235},{"p":"dz","s":"ec","t":400,"v":0.23,"mk":0}
],
"A": [
{"p":"th","k":"e","t":241.1,"v":0.06},
{"p":"th","k":"r","t":242.4,"v":0.69,"t2":258.4,"v2":2.73},
{"p":"th","k":"h","t":258.4,"v":2.73},
{"p":"dz","k":"e","t":211.7,"v":0.024},
{"p":"dz","k":"r","t":221,"v":0.18,"t2":232.3,"v2":0.82},
{"p":"dz","k":"h","t":232.3,"v":0.82}
],
"B": [
{"p":"th","t":200,"t2":280,"v":-1,"v2":1},
{"p":"dz","t":180,"t2":240,"v":-0.5,"v2":0.5}
],
"G": [
{"p":"th","d":"x","t":50},{"p":"th","d":"x","t":100},{"p":"th","d":"x","t":150},{"p":"th","d":"x","t":200},{"p":"th","d":"x","t":250},{"p":"th","d":"x","t":300},{"p":"th","d":"x","t":350},{"p":"th","d":"x","t":400},
{"p":"th","d":"y","v":0},{"p":"th","d":"y","v":5},{"p":"th","d":"y","v":10},
{"p":"dz","d":"x","t":50},{"p":"dz","d":"x","t":100},{"p":"dz","d":"x","t":150},{"p":"dz","d":"x","t":200},{"p":"dz","d":"x","t":250},{"p":"dz","d":"x","t":300},{"p":"dz","d":"x","t":350},{"p":"dz","d":"x","t":400},
{"p":"dz","d":"y","v":0},{"p":"dz","d":"y","v":1},{"p":"dz","d":"y","v":2},{"p":"dz","d":"y","v":3},
{"p":"thi","d":"x","t":220},{"p":"thi","d":"x","t":240},{"p":"thi","d":"x","t":260},{"p":"thi","d":"y","v":0},
{"p":"dzi","d":"y","v":0}
],
"T": [
{"p":"th","k":"a","t":0,"v":10,"txt":"x 10"},
{"p":"th","k":"b","t":0,"v":10,"txt":"−3"},
{"p":"thi","k":"a","t":200,"v":1,"txt":"x 10"},
{"p":"thi","k":"b","t":200,"v":1,"txt":"−3"}
]
},
"resolve": {"scale": {"x": "independent", "y": "independent"}},
"layer": [
{
 "encoding": {
  "x": {"field":"t","type":"quantitative","scale":{"domain":[0,400],"nice":false,"zero":false},"axis":{"orient":"bottom","offset":-348,"values":[0,50,100,400],"format":"d","title":null,"labelPadding":13}},
  "y": {"field":"v","type":"quantitative","scale":{"domain":[-5,10],"range":[251,0],"nice":false,"zero":false},"axis":{"orient":"left","values":[-5,0,5,10],"format":"d","title":"θ [rad]","labelPadding":7.5,"titlePadding":1}}
 },
 "layer": [
  {"data":{"name":"G"},"transform":[{"filter":"datum.p==='th'&&datum.d==='x'"}],"mark":{"type":"rule","color":"#555555","strokeDash":[1.5,2.5],"strokeWidth":1},"encoding":{"y":{"datum":-5},"y2":{"datum":10}}},
  {"data":{"name":"G"},"transform":[{"filter":"datum.p==='th'&&datum.d==='y'"}],"mark":{"type":"rule","color":"#555555","strokeDash":[1.5,2.5],"strokeWidth":1},"encoding":{"x":{"datum":0},"x2":{"datum":400}}},
  {"data":{"name":"L"},"transform":[{"filter":"datum.p==='th'&&datum.s==='sd'"}],"mark":{"type":"line","strokeWidth":2},
   "encoding":{"color":{"field":"s","type":"nominal","scale":{"domain":["sd","fo","fx","mr","eo","ec"],"range":["#0000FF","#FF0000","#000000","#FF00FF","#B8860B","#1F3B99"]},
    "legend":{"orient":"none","legendX":281,"legendY":191,"title":null,"symbolType":"M-1.35,0H1.35","symbolSize":600,"symbolStrokeWidth":2,"symbolOffset":5.5,"labelFont":"Liberation Sans","labelFontSize":22,"labelFontWeight":"bold","labelColor":"black","labelOffset":8,"labelLimit":0,"rowPadding":6,"padding":3,"fillColor":"white","strokeColor":"black",
     "labelExpr":"datum.label==='sd'?'static DLAW':datum.label==='fo'?'full order DLAW':datum.label==='fx'?'fixed order DLAW':datum.label==='mr'?'MRAW':datum.label==='eo'?'EMRAW objective−based (Alg. 3.2)':'EMRAW coordinate−descendant (Alg. 3.3)'",
     "encode":{"symbols":{"update":{
       "shape":{"signal":"datum.value==='mr'?'M-1.35,0H1.35M-0.08,0A0.08,0.08 0 1,0 0.08,0A0.08,0.08 0 1,0 -0.08,0':datum.value==='eo'?'M-1.35,0H1.35M0,-0.25V0.25M-0.18,-0.18L0.18,0.18M-0.18,0.18L0.18,-0.18':datum.value==='ec'?'M-1.35,0H-0.27M0.27,0H1.35M-0.27,0A0.27,0.27 0 1,0 0.27,0A0.27,0.27 0 1,0 -0.27,0':'M-1.35,0H1.35'"},
       "strokeDash":{"signal":"datum.value==='fo'?[6,4]:datum.value==='fx'?[7,3,2,3]:[1,0]"},
       "strokeWidth":{"signal":"datum.value==='sd'||datum.value==='fo'?2.2:1.3"},
       "fill":{"value":"transparent"}}},
      "legend":{"update":{"strokeWidth":{"value":1.5}}}}}}}},
  {"data":{"name":"L"},"transform":[{"filter":"datum.p==='th'&&datum.s==='fo'"}],"mark":{"type":"line","strokeWidth":2,"strokeDash":[6,4]},"encoding":{"color":{"field":"s","type":"nominal","legend":null}}},
  {"data":{"name":"L"},"transform":[{"filter":"datum.p==='th'&&datum.s==='fx'"}],"mark":{"type":"line","strokeWidth":1.5,"strokeDash":[7,3,2,3]},"encoding":{"color":{"field":"s","type":"nominal","legend":null}}},
  {"data":{"name":"L"},"transform":[{"filter":"datum.p==='th'&&datum.s==='mr'"}],"mark":{"type":"line","strokeWidth":1},"encoding":{"color":{"field":"s","type":"nominal","legend":null}}},
  {"data":{"name":"L"},"transform":[{"filter":"datum.p==='th'&&datum.s==='mr'"}],"mark":{"type":"point","shape":"circle","size":6,"filled":true,"color":"#FF00FF","opacity":1}},
  {"data":{"name":"L"},"transform":[{"filter":"datum.p==='th'&&datum.s==='eo'"}],"mark":{"type":"line","strokeWidth":1.2},"encoding":{"color":{"field":"s","type":"nominal","legend":null}}},
  {"data":{"name":"L"},"transform":[{"filter":"datum.p==='th'&&datum.s==='eo'&&datum.mk!==0"}],"mark":{"type":"point","shape":"M-1,0H1M0,-1V1M-0.7,-0.7L0.7,0.7M-0.7,0.7L0.7,-0.7","size":49,"filled":false,"color":"#B8860B","strokeWidth":1.2,"opacity":1}},
  {"data":{"name":"L"},"transform":[{"filter":"datum.p==='th'&&datum.s==='ec'"}],"mark":{"type":"line","strokeWidth":1.2},"encoding":{"color":{"field":"s","type":"nominal","legend":null}}},
  {"data":{"name":"L"},"transform":[{"filter":"datum.p==='th'&&datum.s==='ec'&&datum.mk!==0"}],"mark":{"type":"point","shape":"circle","size":56,"filled":false,"color":"#1F3B99","strokeWidth":1,"opacity":1}},
  {"data":{"name":"A"},"transform":[{"filter":"datum.p==='th'&&datum.k==='e'"}],"mark":{"type":"point","shape":"M-1,0A1,0.166 0 1,1 1,0A1,0.166 0 1,1 -1,0","size":46959,"filled":false,"color":"black","strokeWidth":2.5,"opacity":1}},
  {"data":{"name":"A"},"transform":[{"filter":"datum.p==='th'&&datum.k==='r'"}],"mark":{"type":"rule","color":"black","strokeWidth":1},"encoding":{"x2":{"field":"t2"},"y2":{"field":"v2"}}},
  {"data":{"name":"A"},"transform":[{"filter":"datum.p==='th'&&datum.k==='h'"}],"mark":{"type":"point","shape":"M0,0L-0.42,1.1L0.42,1.1Z","size":200,"filled":true,"color":"black","angle":44,"opacity":1}},
  {"data":{"name":"T"},"transform":[{"filter":"datum.p==='th'&&datum.k==='a'"}],"mark":{"type":"text","align":"left","baseline":"alphabetic","dx":2,"dy":-1,"fontSize":20,"fontWeight":"bold","font":"Liberation Sans","color":"black"},"encoding":{"text":{"field":"txt"}}},
  {"data":{"name":"T"},"transform":[{"filter":"datum.p==='th'&&datum.k==='b'"}],"mark":{"type":"text","align":"left","baseline":"alphabetic","dx":43,"dy":-12,"fontSize":14,"fontWeight":"bold","font":"Liberation Sans","color":"black"},"encoding":{"text":{"field":"txt"}}}
 ]
},
{
 "encoding": {
  "x": {"field":"t","type":"quantitative","scale":{"domain":[200,280],"range":[395,776.7],"nice":false,"zero":false},"axis":{"orient":"bottom","offset":-485.7,"values":[200,220,240,260,280],"format":"d","title":null,"labelFontSize":16,"tickSize":-4,"labelPadding":9.5,"zindex":1}},
  "y": {"field":"v","type":"quantitative","scale":{"domain":[-1,1],"range":[113.3,15.7],"nice":false,"zero":false},"axis":{"orient":"left","offset":-395,"values":[-1,0,1],"format":"~g","title":null,"labelFontSize":16,"tickSize":-4,"labelPadding":9,"zindex":1}}
 },
 "layer": [
  {"data":{"name":"B"},"transform":[{"filter":"datum.p==='th'"}],"mark":{"type":"rect","fill":"white","stroke":"black","strokeWidth":2.5},"encoding":{"x2":{"field":"t2"},"y2":{"field":"v2"}}},
  {"data":{"name":"G"},"transform":[{"filter":"datum.p==='thi'&&datum.d==='x'"}],"mark":{"type":"rule","color":"#555555","strokeDash":[1.5,2.5],"strokeWidth":1},"encoding":{"y":{"datum":-1},"y2":{"datum":1}}},
  {"data":{"name":"G"},"transform":[{"filter":"datum.p==='thi'&&datum.d==='y'"}],"mark":{"type":"rule","color":"#555555","strokeDash":[1.5,2.5],"strokeWidth":1},"encoding":{"x":{"datum":200},"x2":{"datum":280}}},
  {"data":{"name":"L"},"transform":[{"filter":"datum.p==='th'&&datum.s==='sd'&&datum.t>=200&&datum.t<=280"}],"mark":{"type":"line","strokeWidth":3},"encoding":{"color":{"field":"s","type":"nominal","legend":null}}},
  {"data":{"name":"L"},"transform":[{"filter":"datum.p==='th'&&datum.s==='fo'&&datum.t>=200&&datum.t<=280"}],"mark":{"type":"line","strokeWidth":2.5,"strokeDash":[8,5]},"encoding":{"color":{"field":"s","type":"nominal","legend":null}}},
  {"data":{"name":"L"},"transform":[{"filter":"datum.p==='th'&&datum.s==='fx'&&datum.t>=200&&datum.t<=280"}],"mark":{"type":"line","strokeWidth":2,"strokeDash":[9,4,2,4]},"encoding":{"color":{"field":"s","type":"nominal","legend":null}}},
  {"data":{"name":"L"},"transform":[{"filter":"datum.p==='th'&&datum.s==='mr'&&datum.t>=200&&datum.t<=280"}],"mark":{"type":"line","strokeWidth":2.5},"encoding":{"color":{"field":"s","type":"nominal","legend":null}}},
  {"data":{"name":"L"},"transform":[{"filter":"datum.p==='th'&&datum.s==='eo'&&datum.t>=200&&datum.t<=280"}],"mark":{"type":"line","strokeWidth":2},"encoding":{"color":{"field":"s","type":"nominal","legend":null}}},
  {"data":{"name":"L"},"transform":[{"filter":"datum.p==='th'&&datum.s==='eo'&&datum.t>=200&&datum.t<=280&&datum.mk!==0"}],"mark":{"type":"point","shape":"circle","size":55,"filled":true,"color":"#B8860B","opacity":1}},
  {"data":{"name":"L"},"transform":[{"filter":"datum.p==='th'&&datum.s==='ec'&&datum.t>=200&&datum.t<=280"}],"mark":{"type":"line","strokeWidth":2.5},"encoding":{"color":{"field":"s","type":"nominal","legend":null}}},
  {"data":{"name":"L"},"transform":[{"filter":"datum.p==='th'&&datum.s==='ec'&&datum.t>=200&&datum.t<=280&&datum.mk!==0"}],"mark":{"type":"point","shape":"circle","size":70,"filled":false,"color":"#1F3B99","strokeWidth":2,"opacity":1}},
  {"data":{"name":"T"},"transform":[{"filter":"datum.p==='thi'&&datum.k==='a'"}],"mark":{"type":"text","align":"left","baseline":"alphabetic","dx":0,"dy":-4,"fontSize":15,"fontWeight":"bold","font":"Liberation Sans","color":"black"},"encoding":{"text":{"field":"txt"}}},
  {"data":{"name":"T"},"transform":[{"filter":"datum.p==='thi'&&datum.k==='b'"}],"mark":{"type":"text","align":"left","baseline":"alphabetic","dx":31,"dy":-13,"fontSize":11,"fontWeight":"bold","font":"Liberation Sans","color":"black"},"encoding":{"text":{"field":"txt"}}}
 ]
},
{
 "encoding": {
  "x": {"field":"t","type":"quantitative","scale":{"domain":[0,400],"nice":false,"zero":false},"axis":{"orient":"bottom","values":[0,50,100,150,200,250,300,350,400],"format":"d","title":"Time [s]","labelPadding":12,"titlePadding":1}},
  "y": {"field":"v","type":"quantitative","scale":{"domain":[-1,3],"range":[599,348],"nice":false,"zero":false},"axis":{"orient":"left","values":[-1,0,1,2,3],"format":"d","title":"Δ z [m]","labelPadding":7.5,"titlePadding":1}}
 },
 "layer": [
  {"data":{"name":"G"},"transform":[{"filter":"datum.p==='dz'&&datum.d==='x'"}],"mark":{"type":"rule","color":"#555555","strokeDash":[1.5,2.5],"strokeWidth":1},"encoding":{"y":{"datum":-1},"y2":{"datum":3}}},
  {"data":{"name":"G"},"transform":[{"filter":"datum.p==='dz'&&datum.d==='y'"}],"mark":{"type":"rule","color":"#555555","strokeDash":[1.5,2.5],"strokeWidth":1},"encoding":{"x":{"datum":0},"x2":{"datum":400}}},
  {"data":{"name":"L"},"transform":[{"filter":"datum.p==='dz'&&datum.s==='sd'"}],"mark":{"type":"line","strokeWidth":2},"encoding":{"color":{"field":"s","type":"nominal","legend":null}}},
  {"data":{"name":"L"},"transform":[{"filter":"datum.p==='dz'&&datum.s==='fo'"}],"mark":{"type":"line","strokeWidth":2,"strokeDash":[6,4]},"encoding":{"color":{"field":"s","type":"nominal","legend":null}}},
  {"data":{"name":"L"},"transform":[{"filter":"datum.p==='dz'&&datum.s==='fx'"}],"mark":{"type":"line","strokeWidth":1.5,"strokeDash":[7,3,2,3]},"encoding":{"color":{"field":"s","type":"nominal","legend":null}}},
  {"data":{"name":"L"},"transform":[{"filter":"datum.p==='dz'&&datum.s==='mr'"}],"mark":{"type":"line","strokeWidth":1},"encoding":{"color":{"field":"s","type":"nominal","legend":null}}},
  {"data":{"name":"L"},"transform":[{"filter":"datum.p==='dz'&&datum.s==='mr'"}],"mark":{"type":"point","shape":"circle","size":6,"filled":true,"color":"#FF00FF","opacity":1}},
  {"data":{"name":"L"},"transform":[{"filter":"datum.p==='dz'&&datum.s==='eo'"}],"mark":{"type":"line","strokeWidth":1.2},"encoding":{"color":{"field":"s","type":"nominal","legend":null}}},
  {"data":{"name":"L"},"transform":[{"filter":"datum.p==='dz'&&datum.s==='eo'&&datum.mk!==0"}],"mark":{"type":"point","shape":"M-1,0H1M0,-1V1M-0.7,-0.7L0.7,0.7M-0.7,0.7L0.7,-0.7","size":49,"filled":false,"color":"#B8860B","strokeWidth":1.2,"opacity":1}},
  {"data":{"name":"L"},"transform":[{"filter":"datum.p==='dz'&&datum.s==='ec'"}],"mark":{"type":"line","strokeWidth":1.2},"encoding":{"color":{"field":"s","type":"nominal","legend":null}}},
  {"data":{"name":"L"},"transform":[{"filter":"datum.p==='dz'&&datum.s==='ec'&&datum.mk!==0"}],"mark":{"type":"point","shape":"circle","size":56,"filled":false,"color":"#1F3B99","strokeWidth":1,"opacity":1}},
  {"data":{"name":"A"},"transform":[{"filter":"datum.p==='dz'&&datum.k==='e'"}],"mark":{"type":"point","shape":"M-1,0A1,0.242 0 1,1 1,0A1,0.242 0 1,1 -1,0","size":23013,"filled":false,"color":"black","strokeWidth":2.5,"opacity":1}},
  {"data":{"name":"A"},"transform":[{"filter":"datum.p==='dz'&&datum.k==='r'"}],"mark":{"type":"rule","color":"black","strokeWidth":1},"encoding":{"x2":{"field":"t2"},"y2":{"field":"v2"}}},
  {"data":{"name":"A"},"transform":[{"filter":"datum.p==='dz'&&datum.k==='h'"}],"mark":{"type":"point","shape":"M0,0L-0.42,1.1L0.42,1.1Z","size":200,"filled":true,"color":"black","angle":30,"opacity":1}}
 ]
},
{
 "encoding": {
  "x": {"field":"t","type":"quantitative","scale":{"domain":[180,240],"range":[367.3,805],"nice":false,"zero":false},"axis":{"orient":"bottom","offset":-126.7,"values":[180,190,200,210,220,230,240],"format":"d","title":null,"labelFontSize":16,"tickSize":-4,"labelPadding":10,"zindex":1}},
  "y": {"field":"v","type":"quantitative","scale":{"domain":[-0.5,0.5],"range":[472.3,385.7],"nice":false,"zero":false},"axis":{"orient":"left","offset":-367.3,"values":[-0.5,0,0.5],"format":"~g","title":null,"labelFontSize":16,"tickSize":-4,"labelPadding":8,"zindex":1}}
 },
 "layer": [
  {"data":{"name":"B"},"transform":[{"filter":"datum.p==='dz'"}],"mark":{"type":"rect","fill":"white","stroke":"black","strokeWidth":2.5},"encoding":{"x2":{"field":"t2"},"y2":{"field":"v2"}}},
  {"data":{"name":"G"},"transform":[{"filter":"datum.p==='dzi'&&datum.d==='y'"}],"mark":{"type":"rule","color":"#555555","strokeDash":[1.5,2.5],"strokeWidth":1},"encoding":{"x":{"datum":180},"x2":{"datum":240}}},
  {"data":{"name":"L"},"transform":[{"filter":"datum.p==='dz'&&datum.s==='sd'&&datum.t>=180&&datum.t<=240&&datum.v<=0.5"}],"mark":{"type":"line","strokeWidth":3},"encoding":{"color":{"field":"s","type":"nominal","legend":null}}},
  {"data":{"name":"L"},"transform":[{"filter":"datum.p==='dz'&&datum.s==='fo'&&datum.t>=180&&datum.t<=240&&datum.v<=0.5"}],"mark":{"type":"line","strokeWidth":2.5,"strokeDash":[8,5]},"encoding":{"color":{"field":"s","type":"nominal","legend":null}}},
  {"data":{"name":"L"},"transform":[{"filter":"datum.p==='dz'&&datum.s==='fx'&&datum.t>=180&&datum.t<=240&&datum.v<=0.5"}],"mark":{"type":"line","strokeWidth":2,"strokeDash":[9,4,2,4]},"encoding":{"color":{"field":"s","type":"nominal","legend":null}}},
  {"data":{"name":"L"},"transform":[{"filter":"datum.p==='dz'&&datum.s==='mr'&&datum.t>=180&&datum.t<=240&&datum.v<=0.5"}],"mark":{"type":"line","strokeWidth":2.5},"encoding":{"color":{"field":"s","type":"nominal","legend":null}}},
  {"data":{"name":"L"},"transform":[{"filter":"datum.p==='dz'&&datum.s==='eo'&&datum.t>=180&&datum.t<=240&&datum.v<=0.5"}],"mark":{"type":"line","strokeWidth":2},"encoding":{"color":{"field":"s","type":"nominal","legend":null}}},
  {"data":{"name":"L"},"transform":[{"filter":"datum.p==='dz'&&datum.s==='eo'&&datum.t>=180&&datum.t<=240&&datum.v<=0.5&&datum.mk!==0"}],"mark":{"type":"point","shape":"circle","size":55,"filled":true,"color":"#B8860B","opacity":1}},
  {"data":{"name":"L"},"transform":[{"filter":"datum.p==='dz'&&datum.s==='ec'&&datum.t>=180&&datum.t<=240&&datum.v<=0.5"}],"mark":{"type":"line","strokeWidth":2.5},"encoding":{"color":{"field":"s","type":"nominal","legend":null}}},
  {"data":{"name":"L"},"transform":[{"filter":"datum.p==='dz'&&datum.s==='ec'&&datum.t>=180&&datum.t<=240&&datum.v<=0.5&&datum.mk!==0"}],"mark":{"type":"point","shape":"circle","size":70,"filled":false,"color":"#1F3B99","strokeWidth":2,"opacity":1}}
 ]
}
]
}
